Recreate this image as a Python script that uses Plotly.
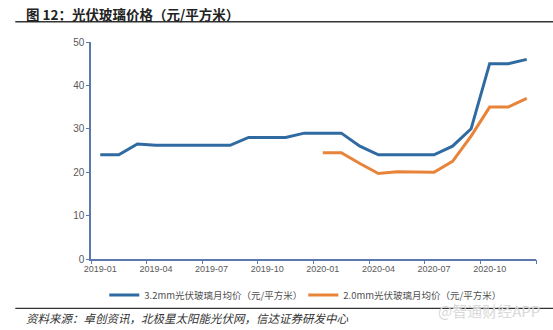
import plotly.graph_objects as go

months = ["2019-01", "2019-02", "2019-03", "2019-04", "2019-05", "2019-06",
          "2019-07", "2019-08", "2019-09", "2019-10", "2019-11", "2019-12",
          "2020-01", "2020-02", "2020-03", "2020-04", "2020-05", "2020-06",
          "2020-07", "2020-08", "2020-09", "2020-10", "2020-11", "2020-12"]
glass_32 = [24, 24, 26.5, 26.2, 26.2, 26.2, 26.2, 26.2, 28, 28, 28, 29,
            29, 29, 26, 24, 24, 24, 24, 26, 30, 45, 45, 46]
glass_20 = [None] * 12 + [24.5, 24.5, 22, 19.7, 20.1, 20, 20, 22.5, 28.3, 35, 35, 37]
name_32 = "3.2mm光伏玻璃月均价（元/平方米）"
name_20 = "2.0mm光伏玻璃月均价（元/平方米）"
title_text = "图 12：光伏玻璃价格（元/平方米）"
source_text = "资料来源：卓创资讯，北极星太阳能光伏网，信达证券研发中心"
watermark = "@智通财经APP"

idx = list(range(len(months)))
tick_idx = idx[::3]
tick_lbl = months[::3]

AXIS = "#5b79ad"
FONT = "Liberation Sans, Arial, Noto Sans CJK SC, sans-serif"
CJK = "Noto Sans CJK SC, sans-serif"

fig = go.Figure()
fig.add_trace(go.Scatter(x=idx, y=glass_32, mode="lines", name=name_32,
                         line=dict(color="#2f6aa0", width=3)))
fig.add_trace(go.Scatter(x=idx, y=glass_20, mode="lines", name=name_20,
                         line=dict(color="#e8843a", width=3)))
# invisible trace on overlay axis for boundary tick marks
fig.add_trace(go.Scatter(x=[idx[0]], y=[None], xaxis="x2", showlegend=False,
                         hoverinfo="skip"))

W, H = 553, 330
L, R, T, B = 90.7, 17.3, 41.7, 71.0
PW, PH = W - L - R, H - T - B


def px(x):
    return (x - L) / PW


def py(y):
    return (H - B - y) / PH


fig.update_layout(
    width=W, height=H,
    margin=dict(l=L, r=R, t=T, b=B),
    paper_bgcolor="white", plot_bgcolor="white",
    font=dict(family=FONT, color="#595959", size=9),
    xaxis=dict(range=[-0.5, len(months) - 0.5], tickmode="array",
               tickvals=tick_idx, ticktext=tick_lbl, ticks="",
               showline=True, linecolor=AXIS, linewidth=1.5,
               showgrid=False, zeroline=False,
               tickfont=dict(size=9, color="#595959")),
    xaxis2=dict(overlaying="x", range=[-0.5, len(months) - 0.5],
                tickmode="array",
                tickvals=[i - 0.5 for i in tick_idx] + [len(months) - 0.5],
                showticklabels=False, ticks="outside", ticklen=4,
                tickcolor=AXIS, tickwidth=1, showgrid=False, zeroline=False,
                showline=False, side="bottom", anchor="y"),
    yaxis=dict(range=[0, 50], dtick=10, ticks="outside", ticklen=3,
               tickcolor=AXIS, showline=True, linecolor=AXIS, linewidth=1.5,
               showgrid=False, zeroline=False,
               tickfont=dict(size=10, color="#595959")),
    legend=dict(orientation="h", x=px(104), xanchor="left",
                y=py(295), yanchor="middle",
                font=dict(family=CJK, size=9.5, color="#505050"),
                itemwidth=30, entrywidth=154, entrywidthmode="pixels",
                bgcolor="rgba(0,0,0,0)"),
    showlegend=True,
)

fig.add_annotation(text="<b>" + title_text + "</b>", xref="paper", yref="paper",
                   x=px(24), y=py(13.5),
                   xanchor="left", yanchor="middle", showarrow=False,
                   font=dict(family=CJK, size=13.5, color="#222222"))
fig.add_annotation(text="<i>" + source_text + "</i>", xref="paper", yref="paper",
                   x=px(24), y=py(318),
                   xanchor="left", yanchor="middle", showarrow=False,
                   font=dict(family=CJK, size=11.5, color="#333333"))
fig.add_annotation(text=watermark, xref="paper", yref="paper",
                   x=px(542), y=py(311),
                   xanchor="right", yanchor="middle", showarrow=False,
                   font=dict(family=CJK, size=15, color="#d9d9d9"))

# separator rules
fig.add_shape(type="line", xref="paper", yref="paper",
              x0=px(15), x1=px(W), y0=py(21.5), y1=py(21.5),
              line=dict(color="#333333", width=1.5))
fig.add_shape(type="line", xref="paper", yref="paper",
              x0=px(15), x1=px(W), y0=py(308.5), y1=py(308.5),
              line=dict(color="#333333", width=1.2))

fig.write_html("out.html")
